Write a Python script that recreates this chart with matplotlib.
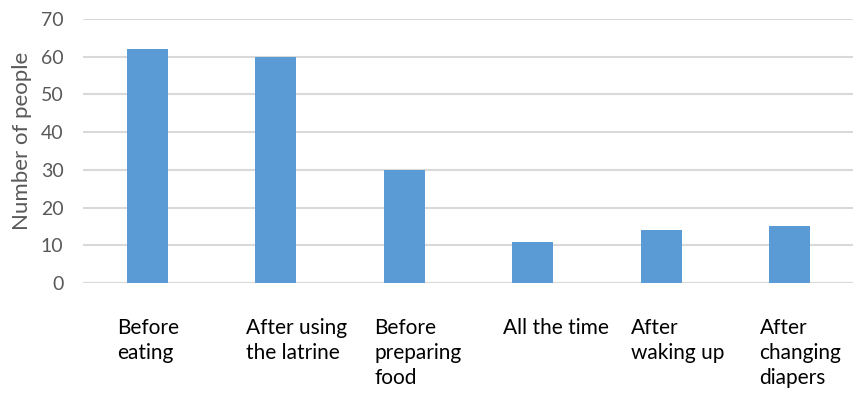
import numpy as np
import matplotlib.pyplot as plt

# hand washing moments
categories = ["Before\neating", "After using\nthe latrine", "Before\npreparing\nfood",
              "All the time", "After\nwaking up", "After\nchanging\ndiapers"]
people = [62, 60, 30, 11, 14, 15]
yticks = [0, 10, 20, 30, 40, 50, 60, 70]

plt.rcParams['font.family'] = ['Lato', 'DejaVu Sans']

fig = plt.figure(figsize=(8.54, 3.94), dpi=100)
ax = fig.add_axes([83 / 854, 1 - 283 / 394, 771 / 854, 264 / 394])

x = np.arange(len(categories))
ax.bar(x, people, width=0.32, color='#5b9bd5', zorder=3)

ax.set_xlim(-0.5, len(categories) - 0.5)
ax.set_ylim(0, 70)
ax.set_yticks(yticks)
ax.yaxis.grid(True, color='#d9d9d9', linewidth=1.5, zorder=0)
ax.axhline(0, color='#d9d9d9', linewidth=1.5, zorder=1)
for s in ax.spines.values():
    s.set_visible(False)

ax.tick_params(axis='y', length=0, pad=14, labelsize=14, labelcolor='#595959')
ax.set_xticks(x)
ax.set_xticklabels([])
ax.tick_params(axis='x', length=0)

# category labels under each bar, wrapped lines left-aligned
for xi, lab in zip(x, categories):
    ax.text(xi - 0.235, -9.3, lab, ha='left', va='top',
            fontsize=15, color='#000000', linespacing=1.3,
            transform=ax.transData, clip_on=False)

ax.set_ylabel("Number of people", fontsize=16, color='#595959')
ax.yaxis.set_label_coords(-0.066, 0.54)

fig.savefig("out.png", dpi=100)
